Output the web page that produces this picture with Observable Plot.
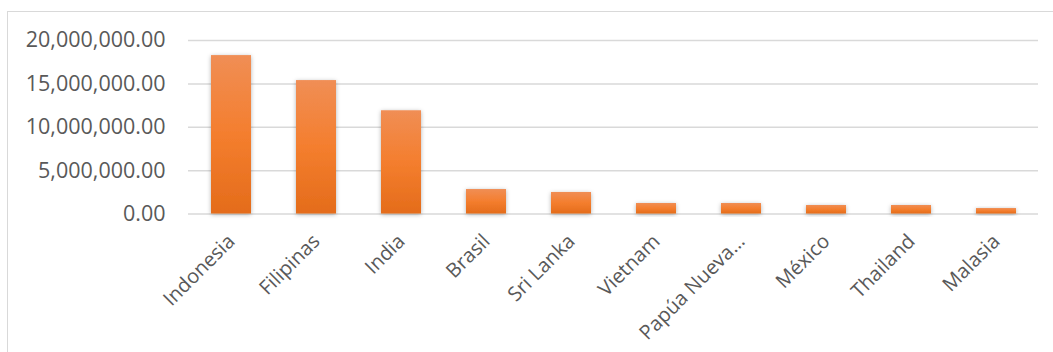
<!DOCTYPE html>
<html>
<head>
<meta charset="utf-8">
<script src="https://cdn.jsdelivr.net/npm/d3@7"></script>
<script src="https://cdn.jsdelivr.net/npm/@observablehq/plot@0.6"></script>
<style>
  html, body { margin: 0; padding: 0; background: #fff; overflow: hidden; }
  #wrap { position: relative; width: 1053px; height: 352px; }
  #border { position: absolute; left: 7px; top: 11px; width: 1100px; height: 400px;
            border: 1.5px solid #d9d9d9; box-sizing: border-box; }
  #chart { position: absolute; left: 0; top: 0; }
</style>
</head>
<body>
<div id="wrap"><div id="border"></div><div id="chart"></div></div>
<script>
const countries = ["Indonesia", "Filipinas", "India", "Brasil", "Sri Lanka", "Vietnam", "Papúa Nueva…", "México", "Thailand", "Malasia"];
const values = [18260000, 15380000, 11900000, 2820000, 2480000, 1210000, 1210000, 980000, 980000, 630000];
const yTicks = [0, 5000000, 10000000, 15000000, 20000000];

const data = countries.map((c, i) => ({country: c, value: values[i]}));

const chart = Plot.plot({
  width: 1053,
  height: 352,
  marginLeft: 188,
  marginRight: 15,
  marginTop: 40,
  marginBottom: 138.5,
  style: {fontFamily: "'Open Sans', sans-serif", fontSize: "21.5px", color: "#595959", background: "transparent"},
  x: {domain: countries, paddingInner: 0.53, paddingOuter: 0.265, label: null},
  y: {domain: [0, 20000000], ticks: yTicks, label: null},
  marks: [
    Plot.gridY(yTicks, {stroke: "#d9d9d9", strokeOpacity: 1, strokeWidth: 1.5}),
    Plot.barY(data, {x: "country", y: "value", fill: "url(#barGrad)"}),
    Plot.axisY({ticks: yTicks, tickSize: 0, tickPadding: 23, tickFormat: d3.format(",.2f"),
      fill: "#595959", label: null, fontSize: 21.5}),
    Plot.axisX({tickSize: 0, tickPadding: 24, tickRotate: -45, fill: "#595959", label: null, fontSize: 20})
  ]
});

const svg = d3.select(chart);
const defs = svg.insert("defs", ":first-child");
const g = defs.append("linearGradient").attr("id", "barGrad")
  .attr("x1", 0).attr("y1", 0).attr("x2", 0).attr("y2", 1);
g.append("stop").attr("offset", "0%").attr("stop-color", "#F08E55");
g.append("stop").attr("offset", "50%").attr("stop-color", "#F47E2E");
g.append("stop").attr("offset", "100%").attr("stop-color", "#E46C1B");
const f = defs.append("filter").attr("id", "barShadow")
  .attr("x", "-30%").attr("y", "-30%").attr("width", "160%").attr("height", "160%");
f.append("feDropShadow").attr("dx", 0).attr("dy", 1).attr("stdDeviation", 2)
  .attr("flood-color", "#000").attr("flood-opacity", 0.3);
svg.selectAll("rect").filter(function() { return this.getAttribute("fill") === "url(#barGrad)" || (this.parentNode && this.parentNode.getAttribute("fill") === "url(#barGrad)"); })
  .attr("filter", "url(#barShadow)");

document.getElementById("chart").appendChild(chart);
</script>
</body>
</html>
